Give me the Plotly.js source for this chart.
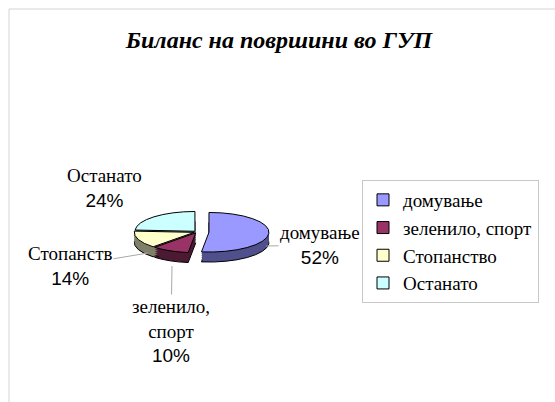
<!DOCTYPE html>
<html><head><meta charset="utf-8">
<script src="https://cdn.plot.ly/plotly-3.0.1.min.js"></script>
</head><body style="margin:0"><div id="chart"></div>
<script>
// ---- data ----
const categories = ['домување', 'зеленило, спорт', 'Стопанство', 'Останато'];
const shares = [52, 10, 14, 24];
const labelLines = [['домување'], ['зеленило,', 'спорт'], ['Стопанств'], ['Останато']];
const chartTitle = 'Биланс на површини во ГУП';

// ---- styles ----
const SERIF = 'Liberation Serif';
const SANS = 'Liberation Sans';
const topColors = ['#9999FF', '#993366', '#FFFFCC', '#CCFFFF'];
const sideColors = ['#50508C', '#4C1A33', '#80806A', '#668080'];
const pulls = [0.2, 0.05, 0.05, 0.05];

const W = 555, H = 402;
const cx = 197, cy = 232, half = 72;   // pie centre / half-size of domain (px)
const squash = 0.33;                    // perspective flattening
const wallOffsets = [10, 8, 6, 4, 2];   // depth layers (px), bottom first

const domain = {
  x: [(cx - half) / W, (cx + half) / W],
  y: [1 - (cy + half) / H, 1 - (cy - half) / H]
};

const total = shares.reduce((a, b) => a + b, 0);
const pct = shares.map(v => Math.round(v / total * 100));

function pieTrace(colors, lineW, legend) {
  return {
    type: 'pie', labels: categories, values: shares, sort: false,
    direction: 'clockwise', rotation: 0, pull: pulls, domain: domain,
    textinfo: 'none', hoverinfo: 'skip', showlegend: legend,
    marker: {colors: colors, line: {color: lineW > 0 ? 'black' : colors, width: lineW > 0 ? lineW : 0}}
  };
}

const data = [];
wallOffsets.forEach((o, i) => data.push(pieTrace(sideColors, i === 0 ? 1 : 0, false)));
data.push(pieTrace(topColors, 1, true));
const offsets = wallOffsets.concat([0]);

// label placement (px): point on pie, text centre
const labelPos = [
  {px: 266, py: 246, tx: 320, ty: 245, arrow: true},
  {px: 172, py: 266, tx: 171, ty: 331, arrow: true},
  {px: 148, py: 253, tx: 70, ty: 266, arrow: true},
  {px: 104, py: 188, tx: 104, ty: 188, arrow: false}
];
const annotations = categories.map((c, i) => {
  const p = labelPos[i];
  return {
    xref: 'paper', yref: 'paper', x: p.px / W, y: 1 - p.py / H,
    ax: p.tx - p.px, ay: p.ty - p.py,
    showarrow: p.arrow, arrowhead: 0, arrowwidth: 1, arrowcolor: '#a8a8a8', standoff: 0,
    text: labelLines[i].join('<br>') + '<br><span style="font-family:' + SANS + '">' + pct[i] + '%</span>',
    font: {family: SERIF, size: 19, color: 'black'},
    align: 'center', xanchor: 'center', yanchor: 'middle'
  };
});

const layout = {
  width: W, height: H,
  margin: {l: 0, r: 0, t: 0, b: 0},
  title: {
    text: chartTitle, x: 279 / W, xanchor: 'center', y: 1 - 40 / H, yanchor: 'middle',
    font: {family: SERIF, size: 24, weight: 'bold', style: 'italic', color: 'black'}
  },
  legend: {
    x: 362 / W, y: 1 - 180 / H, xanchor: 'left', yanchor: 'top',
    font: {family: SERIF, size: 19, color: 'black'},
    bgcolor: 'white', bordercolor: '#c8c8c8', borderwidth: 1,
    itemwidth: 30, itemclick: false
  },
  annotations: annotations,
  shapes: [{
    type: 'rect', xref: 'paper', yref: 'paper',
    x0: 9 / W, x1: 1.02, y0: -0.02, y1: 1 - 9 / H,
    line: {color: '#d4d4d4', width: 1}, layer: 'below'
  }]
};

Plotly.newPlot('chart', data, layout, {staticPlot: true, displayModeBar: false}).then(() => {
  const groups = document.querySelectorAll('.pielayer .trace');
  groups.forEach((g, i) => {
    const o = offsets[i] || 0;
    g.setAttribute('transform', `translate(0,${cy + o}) scale(1,${squash}) translate(0,${-cy})`);
    g.querySelectorAll('path').forEach(p => { p.style.vectorEffect = 'non-scaling-stroke'; });
  });
});
</script>
</body></html>
